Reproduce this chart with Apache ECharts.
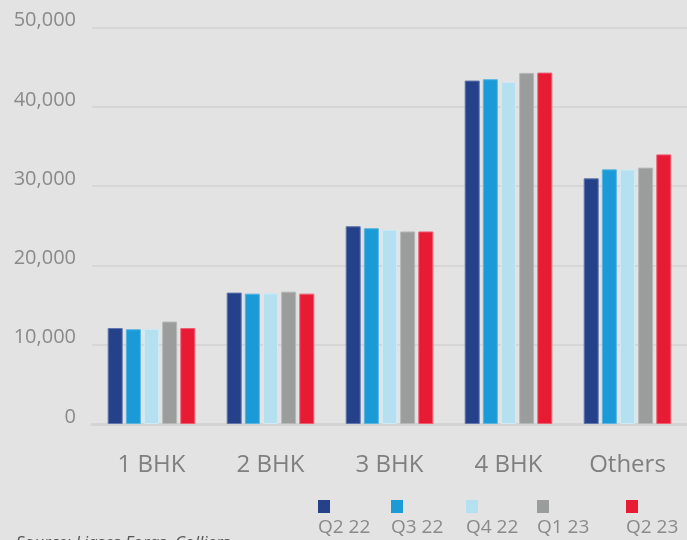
<!DOCTYPE html>
<html>
<head>
<meta charset="utf-8">
<script src="https://cdn.jsdelivr.net/npm/echarts@6/dist/echarts.min.js"></script>
<style>
html,body{margin:0;padding:0;background:#e2e3e2;}
#chart{width:687px;height:540px;}
</style>
</head>
<body>
<div id="chart"></div>
<script>
const categories = ['1 BHK', '2 BHK', '3 BHK', '4 BHK', 'Others'];
const seriesNames = ['Q2 22', 'Q3 22', 'Q4 22', 'Q1 23', 'Q2 23'];
const q2_22 = [12100, 16570, 24940, 43310, 30980];
const q3_22 = [11950, 16440, 24690, 43480, 32110];
const q4_22 = [11990, 16480, 24490, 43140, 32080];
const q1_23 = [12920, 16690, 24280, 44280, 32330];
const q2_23 = [12100, 16440, 24280, 44310, 34000];
const yTicks = [0, 10000, 20000, 30000, 40000, 50000];
const colors = ['#24418a', '#1a9ad6', '#b5e0f0', '#9a9d9c', '#e81b35'];
const borders = ['#5f75ad', '#57b5e3', '#cdeaf5', '#b6b8b7', '#ef5c70'];
const values = [q2_22, q3_22, q4_22, q1_23, q2_23];
const legendX = [318, 391, 466, 537, 626];

const chart = echarts.init(document.getElementById('chart'));
const font = '"Open Sans", "Noto Sans", sans-serif';

const legends = seriesNames.map((name, i) => ({
  data: [name],
  left: legendX[i] - 6,
  top: 500,
  icon: 'rect',
  itemWidth: 0,
  itemHeight: 0,
  itemGap: 0,
  padding: 0,
  selectedMode: false,
  formatter: '{sq|}\n{t|' + name + '}',
  textStyle: {
    rich: {
      sq: { backgroundColor: colors[i], width: 12, height: 13, align: 'left', padding: [0, 0, 0, 0] },
      t: { fontSize: 19, color: '#8a8a8a', fontFamily: font, lineHeight: 26, padding: [4, 0, 0, 0] }
    }
  }
}));

const option = {
  backgroundColor: '#e2e3e2',
  animation: false,
  title: {
    text: 'Source: Liases Foras, Colliers',
    left: 16,
    top: 535,
    padding: 0,
    textStyle: { fontSize: 17, fontStyle: 'italic', fontWeight: 'normal', color: '#555555', fontFamily: font }
  },
  legend: legends,
  grid: { left: 92, right: 0, top: 27.5, bottom: 116 },
  xAxis: {
    type: 'category',
    data: categories,
    axisLine: { show: true, lineStyle: { color: '#d3d4d3', width: 3 } },
    axisTick: { show: false },
    axisLabel: { fontSize: 24, color: '#7f7f7f', fontFamily: font, margin: 29 }
  },
  yAxis: {
    type: 'value',
    min: yTicks[0],
    max: yTicks[yTicks.length - 1],
    interval: yTicks[1] - yTicks[0],
    axisLine: { show: false },
    axisTick: { show: false },
    splitLine: { lineStyle: { color: '#d5d6d5', width: 2 } },
    axisLabel: {
      fontSize: 20, color: '#8a8a8a', fontFamily: font, margin: 16,
      verticalAlign: 'bottom', lineHeight: 14,
      formatter: v => v.toLocaleString('en-US')
    }
  },
  series: seriesNames.map((name, i) => ({
    name: name,
    type: 'bar',
    data: values[i],
    barWidth: 15,
    barGap: '21%',
    itemStyle: { color: colors[i], borderColor: borders[i], borderWidth: 1 }
  }))
};
chart.setOption(option);
</script>
</body>
</html>
